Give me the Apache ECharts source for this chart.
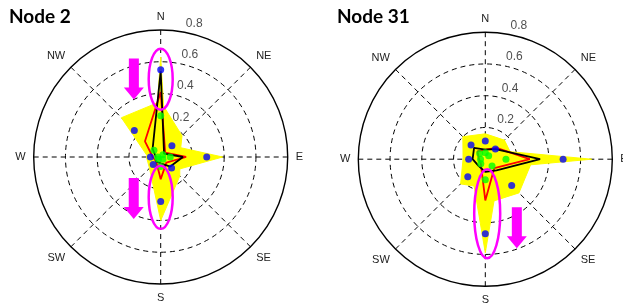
<!DOCTYPE html>
<html><head><meta charset="utf-8">
<script src="https://cdn.jsdelivr.net/npm/echarts@6/dist/echarts.min.js"></script>
<style>html,body{margin:0;padding:0;background:#fff}#c{width:623px;height:303px}</style>
</head><body><div id="c"></div>
<script>
// ---- data ----
const directions = ['N', 'NE', 'E', 'SE', 'S', 'SW', 'W', 'NW'];
const dirAngles = [0, 45, 90, 135, 180, 225, 270, 315];
const radiusTicks = [0.2, 0.4, 0.6, 0.8];
const titles = ['Node 2', 'Node 31'];

// ensemble member envelopes (yellow), order N, NE, E, SE, S, SW, W, NW
const node2MemberA = [0.63, 0.05, 0.08, 0.05, 0.08, 0.05, 0.05, 0.06];
const node2MemberB = [0.35, 0.19, 0.12, 0.06, 0.06, 0.05, 0.08, 0.35];
const node2MemberC = [0.12, 0.10, 0.39, 0.12, 0.10, 0.05, 0.05, 0.08];
const node2MemberD = [0.10, 0.06, 0.12, 0.17, 0.40, 0.10, 0.09, 0.08];
const node2Black = [0.54, 0.03, 0.14, 0.085, 0.04, 0.04, 0.03, 0.072];
const node2Red   = [0.41, 0.04, 0.16, 0.05, 0.14, 0.04, 0.05, 0.14];
const node2Blue  = [0.55, 0.10, 0.29, 0.097, 0.28, 0.067, 0.065, 0.235];
const node2Green = [0.26, 0.02, 0.06, 0.02, 0.06, 0.02, 0.02, 0.06];

const node31MemberA = [0.10, 0.08, 0.67, 0.08, 0.12, 0.08, 0.08, 0.10];
const node31MemberB = [0.10, 0.10, 0.30, 0.30, 0.28, 0.10, 0.08, 0.10];
const node31MemberC = [0.10, 0.08, 0.12, 0.12, 0.59, 0.12, 0.08, 0.08];
const node31MemberD = [0.16, 0.17, 0.18, 0.15, 0.18, 0.22, 0.14, 0.20];
const node31Black = [0.06, 0.09, 0.345, 0.10, 0.08, 0.06, 0.08, 0.10];
const node31Red   = [0.06, 0.10, 0.28, 0.08, 0.26, 0.04, 0.04, 0.07];
const node31Blue  = [0.115, 0.09, 0.49, 0.235, 0.47, 0.156, 0.105, 0.127];
const node31Green = [0.04, 0.03, 0.13, 0.06, 0.13, 0.04, 0.03, 0.05];

// annotations (data coords: radius, compass angle)
const ellipses = [
  {polar: 0, r: 0.49, a: 0, rx: 12, ry: 30.5},
  {polar: 0, r: 0.254, a: 180, rx: 12, ry: 31.5},
  {polar: 1, r: 0.344, a: 178, rx: 13, ry: 44.5}
];
const arrows = [
  {polar: 0, r: 0.40, a: 335},
  {polar: 0, r: 0.426, a: 203.5},
  {polar: 1, r: 0.595, a: 160.5}
];

// ---- build ----
const chart = echarts.init(document.getElementById('c'), null, {renderer: 'canvas'});
const FONT = 'Liberation Sans, Arial, sans-serif';

function closed(vals) {
  const pts = vals.map((v, i) => [v, dirAngles[i]]);
  pts.push([vals[0], 360]);
  return pts;
}
function points(vals) { return vals.map((v, i) => [v, dirAngles[i]]); }

function yellowSeries(vals, pi) {
  return {type: 'line', coordinateSystem: 'polar', polarIndex: pi, data: closed(vals),
    symbol: 'none', lineStyle: {color: '#ffff00', width: 1}, areaStyle: {color: '#ffff00', opacity: 1},
    silent: true, z: 2};
}
function lineSeries(vals, pi, color, z) {
  return {type: 'line', coordinateSystem: 'polar', polarIndex: pi, data: closed(vals),
    symbol: 'none', lineStyle: {color: color, width: 1.8}, silent: true, z: z};
}
function dotSeries(vals, pi, color, z) {
  return {type: 'scatter', coordinateSystem: 'polar', polarIndex: pi, data: points(vals),
    symbol: 'circle', symbolSize: 7, itemStyle: {color: color}, silent: true, z: z};
}
function tickLabelSeries(pi) {
  return {type: 'scatter', coordinateSystem: 'polar', polarIndex: pi,
    data: radiusTicks.map(t => [t, 8]), symbolSize: 1, itemStyle: {color: 'rgba(0,0,0,0)'},
    label: {show: true, position: 'right', distance: 7, offset: [0, -8],
      formatter: p => p.value[0].toFixed(1), color: '#222', fontSize: 12, fontFamily: FONT},
    silent: true, z: 6};
}

const polarCenters = [[160.7, 157], [485.3, 159.2]];
const R = 127;

const option = {
  animation: false,
  backgroundColor: '#fff',
  title: titles.map((t, i) => ({text: t, left: i === 0 ? 9 : 337, top: 7, padding: 0,
    textStyle: {fontSize: 19, fontWeight: 'bold', color: '#000', fontFamily: 'Lato, Open Sans, sans-serif'}})),
  polar: polarCenters.map(c => ({center: c, radius: R})),
  angleAxis: [0, 1].map(i => ({
    polarIndex: i, type: 'value', min: 0, max: 360, interval: 45, startAngle: 90, clockwise: true,
    axisLine: {show: true, lineStyle: {color: '#000', width: 1.4}},
    axisTick: {show: false},
    axisLabel: {show: true, margin: 8, color: '#222', fontSize: 11, fontFamily: FONT,
      formatter: v => { const k = dirAngles.indexOf(v); return k >= 0 ? directions[k] : ''; }},
    splitLine: {show: true, lineStyle: {color: '#000', width: 1, type: [5, 4]}},
    z: 1
  })),
  radiusAxis: [0, 1].map(i => ({
    polarIndex: i, type: 'value', min: 0, max: 0.8, interval: 0.2,
    axisLine: {show: false}, axisTick: {show: false}, axisLabel: {show: false},
    splitLine: {show: true, lineStyle: {color: ['#000', '#000', '#000', '#000', 'rgba(0,0,0,0)'], width: 1, type: [5, 4]}},
    z: 0
  })),
  series: [
    yellowSeries(node2MemberA, 0), yellowSeries(node2MemberB, 0), yellowSeries(node2MemberC, 0), yellowSeries(node2MemberD, 0),
    lineSeries(node2Red, 0, '#ff0000', 3), lineSeries(node2Black, 0, '#000000', 4),
    dotSeries(node2Blue, 0, '#0000ff', 5), dotSeries(node2Green, 0, '#00ff00', 5),
    tickLabelSeries(0),
    yellowSeries(node31MemberA, 1), yellowSeries(node31MemberB, 1), yellowSeries(node31MemberC, 1), yellowSeries(node31MemberD, 1),
    lineSeries(node31Red, 1, '#ff0000', 3), lineSeries(node31Black, 1, '#000000', 4),
    dotSeries(node31Blue, 1, '#0000ff', 5), dotSeries(node31Green, 1, '#00ff00', 5),
    tickLabelSeries(1)
  ]
};
chart.setOption(option);

// annotations positioned through the polar coordinate systems
const graphics = [];
ellipses.forEach(e => {
  const p = chart.convertToPixel({polarIndex: e.polar}, [e.r, e.a]);
  graphics.push({type: 'ellipse', shape: {cx: p[0], cy: p[1], rx: e.rx, ry: e.ry},
    style: {fill: 'none', stroke: '#ff00ff', lineWidth: 2.5}, z: 100, silent: true});
});
arrows.forEach(a => {
  const p = chart.convertToPixel({polarIndex: a.polar}, [a.r, a.a]);
  const x = p[0], y = p[1];
  graphics.push({type: 'polygon', shape: {points: [
    [x, y], [x - 10, y - 12], [x - 5, y - 12], [x - 5, y - 41], [x + 5, y - 41], [x + 5, y - 12], [x + 10, y - 12]
  ]}, style: {fill: '#ff00ff'}, z: 100, silent: true});
});
chart.setOption({graphic: graphics});
</script>
</body></html>
